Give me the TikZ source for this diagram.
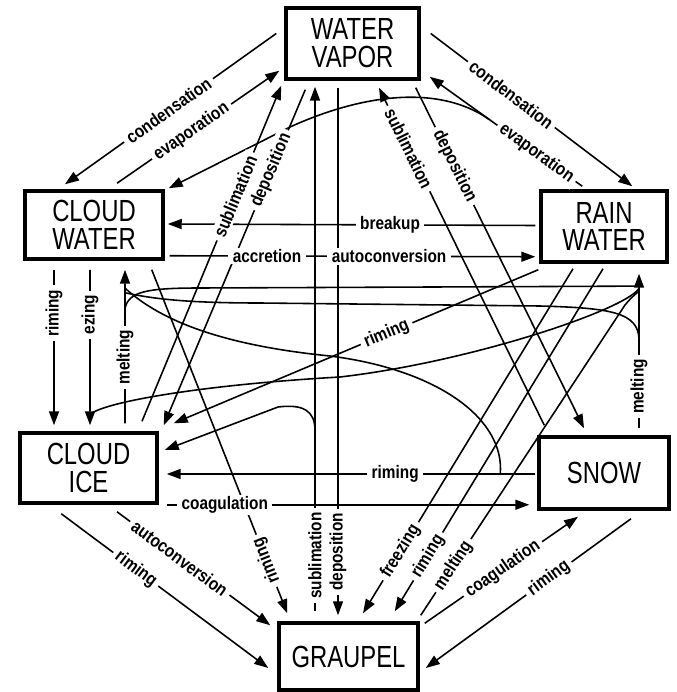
\documentclass[tikz,border=0pt]{standalone}
\usepackage{fontspec}
\setmainfont{Liberation Sans}
\newfontfamily\boxfont{Liberation Sans}[FakeStretch=0.78]
\newfontfamily\lblfont{Liberation Sans}[FakeStretch=0.85]
\usepackage{tikz}
\usetikzlibrary{arrows.meta,calc,positioning}

\begin{document}
\begin{tikzpicture}[x=0.02cm,y=-0.02cm,
  box/.style={rectangle,draw,line width=2pt,inner sep=0pt,align=center,
              font=\boxfont\fontsize{17.4}{15.9}\selectfont},
  lbl/.style={font=\lblfont\bfseries\fontsize{10.3}{12}\selectfont,fill=white,
              inner xsep=2.5pt,inner ysep=1pt},
  fl/.style={-{Triangle[length=2.8mm,width=2mm]},line width=0.9pt},
  ln/.style={line width=0.9pt}
]
  \useasboundingbox (0,0) rectangle (676,692);
  \node[box,minimum width=2.66cm,minimum height=1.42cm](vapor)   at (352.5,43.5){WATER\\VAPOR};
  \node[box,minimum width=2.76cm,minimum height=1.36cm](cwater)  at (94,225)    {CLOUD\\WATER};
  \node[box,minimum width=2.52cm,minimum height=1.42cm](rwater)  at (604,226.5) {RAIN\\WATER};
  \node[box,minimum width=2.74cm,minimum height=1.40cm](cice)    at (88.5,468)  {CLOUD\\ICE};
  \node[box,minimum width=2.60cm,minimum height=1.44cm](snow)    at (604,473)   {SNOW};
  \node[box,minimum width=2.78cm,minimum height=1.34cm](graupel) at (348.5,656.5){GRAUPEL};
  \draw[fl]($(rwater.west)+(-4,-1)$)--node[lbl,pos=0.395]{breakup}($(cwater.east)+(3,-1)$);
  \draw[fl]($(vapor.west)+(-8,-10)$)--node[lbl,sloped,pos=0.51]{condensation}($(cwater.north)+(-29,-5)$);
  \draw[fl]($(cwater.north)+(23,-6)$)--node[lbl,sloped,pos=0.46]{evaporation}($(vapor.south west)+(-5,-10)$);
  \draw[fl]($(vapor.east)+(10,-10)$)--node[lbl,sloped,pos=0.4]{condensation}($(rwater.north west)+(93,-3)$);
  \draw[fl]($(rwater.north west)+(43,-3)$)--node[lbl,sloped,pos=0.3]{evaporation}
      coordinate[pos=0.61](evbr)($(vapor.south east)+(9,-4)$);
  \draw[fl](evbr).. controls (440,85) and (365,93) ..(290,127)--($(cwater.north east)+(4,-1)$);
  \draw[fl]($(cice.north)+(53.5,-10)$)--node[lbl,sloped,pos=0.67]{sublimation}($(vapor.south west)+(-3,5)$);
  \draw[fl]($(vapor.south west)+(21,9)$)--node[lbl,sloped,pos=0.24]{deposition}($(cice.north east)+(5,-6)$);
  \draw[fl]($(snow.north west)+(7,-10)$)--node[lbl,sloped,pos=0.82]{sublimation}($(vapor.south)+(26.5,7)$);
  \draw[fl]($(vapor.south east)+(-5,7)$)--node[lbl,sloped,pos=0.23]{deposition}($(snow.north)+(-20,-7)$);
  \draw[fl]($(graupel.north)+(-33.5,-10)$)--node[lbl,rotate=90,pos=0.106]{sublimation}
      coordinate[pos=0.345](sbY)($(vapor.south)+(-37.5,6)$);
  \draw[fl]($(vapor.south)+(-14.5,7)$)--node[lbl,rotate=90,pos=0.88]{deposition}($(graupel.north)+(-10.5,-6)$);
  \draw[fl]($(cwater.south)+(-40,9)$)--node[lbl,rotate=90,pos=0.28]{riming}($(cice.north)+(-34.5,-6)$);
  \draw[fl]($(cwater.south)+(-4,9)$)--node[lbl,rotate=90,pos=0.29]{ezing}
      coordinate[pos=0.93](frX)($(cice.north)+(1.5,-6)$);
  \draw[fl]($(cice.north)+(36.5,-8)$)--node[lbl,rotate=90,pos=0.43]{melting}
      coordinate[pos=0.75](mlA) coordinate[pos=0.85](mlB) coordinate[pos=0.88](mlC)($(cwater.south)+(31,9)$);
  \draw[fl]($(snow.north)+(35,-7)$)--node[lbl,rotate=90,pos=0.27]{melting}
      coordinate[pos=0.57](rmB) coordinate[pos=0.92](rmA) coordinate[pos=0.905](rmC)
      coordinate[pos=0.89](rmD)($(rwater.south)+(35,10)$);
  \draw[fl]($(rwater.south west)+(-1,6)$)--node[lbl,sloped,pos=0.416]{riming}($(cice.north east)+(15,-8)$);
  \draw[fl]($(snow.west)+(-2,1)$)--node[lbl,pos=0.38]{riming} coordinate[pos=0.095](rmW)($(cice.east)+(8,6)$);
  \draw[ln](mlA).. controls (129,292) and (145,288) ..(200,288)--(rmA);
  \draw[ln](mlB).. controls (150,298) and (180,303) ..(260,303)--(540,306)
      .. controls (610,308) and (639,312) ..(rmB);
  \draw[ln](mlC).. controls (160,320) and (220,345) ..(330,356)
      .. controls (440,370) and (505,420) ..(rmW);
  \draw[ln](frX).. controls (105,402) and (200,385) ..(340,377)
      .. controls (470,362) and (625,310) ..(rmC);
  \draw[fl](sbY).. controls (315,410) and (302,404) ..(278,407)--($(cice.east)+(6,-18)$);
  \draw[fl]($(cwater.south east)+(-13,9)$)--node[lbl,rotate=111.7,pos=0.847]{riming}($(graupel.north west)+(10,-8)$);
  \draw[fl]($(cice.south east)+(8,0)$)--node[lbl,pos=0.16]{coagulation}($(snow.south west)+(-8,-6)$);
  \draw[fl]($(cice.south)+(28.5,7)$)--node[lbl,sloped,pos=0.41]{autoconversion}($(graupel.north west)+(-7,4)$);
  \draw[fl]($(cice.south west)+(43,9)$)--node[lbl,sloped,pos=0.36]{riming}($(graupel.west)+(-9,11.5)$);
  \draw[fl]($(graupel.north east)+(5,2)$)--node[lbl,sloped,pos=0.51]{coagulation}($(snow.south)+(-26,6)$);
  \draw[fl]($(snow.south)+(27,8)$)--node[lbl,sloped,pos=0.40]{riming}($(graupel.east)+(6,11.5)$);
  \draw[fl]($(rwater.south)+(-31,5)$)--node[lbl,sloped,pos=0.82]{freezing}($(graupel.north)+(14.5,-8)$);
  \draw[fl]($(rwater.south)+(-1,5)$)--node[lbl,sloped,pos=0.84]{riming}($(graupel.north east)+(-25,-10)$);
  \draw[ln]($(graupel.north east)+(1,-6)$)--node[lbl,sloped,pos=0.16]{melting}(625,305)
      .. controls (634,294) and (639,292) ..(rmD);
  \draw[fl]($(cwater.south east)+(5,-5)$)--node[lbl,pos=0.266]{accretion}
      node[lbl,pos=0.6]{autoconversion}($(rwater.south west)+(-4,-7)$);
\end{tikzpicture}
\end{document}
